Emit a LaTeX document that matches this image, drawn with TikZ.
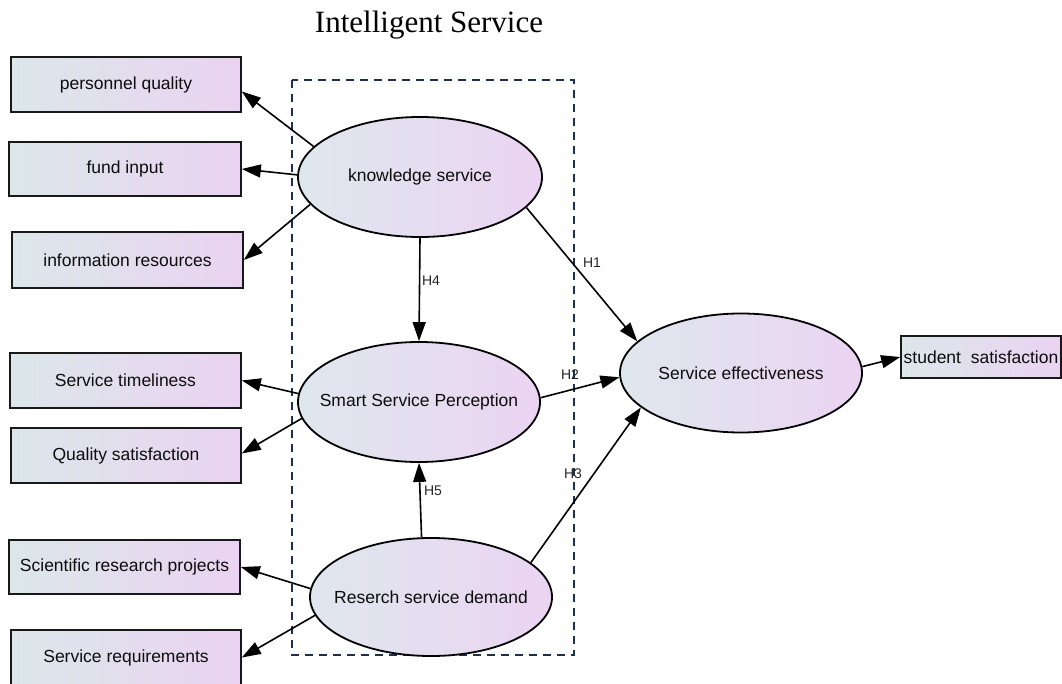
\documentclass[tikz,border=0pt]{standalone}
\usepackage{fontspec}
\setmainfont{Liberation Serif}
\newfontfamily\arialf{Liberation Sans}
\usetikzlibrary{shapes.geometric,arrows.meta,calc}
\definecolor{bxL}{HTML}{DCE7EA}
\definecolor{bxR}{HTML}{EAD3F2}
\definecolor{elL}{HTML}{DFE7EE}
\definecolor{elR}{HTML}{EBD4F2}
\definecolor{dashc}{HTML}{1C3152}
\newcommand{\zw}[1]{\makebox[0pt]{#1}}
\begin{document}
\begin{tikzpicture}[x=1pt,y=-1pt,
  box/.style={draw=black!90, line width=1.6pt, left color=bxL, right color=bxR,
    inner sep=0pt, font=\arialf\fontsize{17.5}{20}\selectfont, text=black!95},
  lat/.style={ellipse, draw=black, line width=1.8pt, left color=elL, right color=elR,
    inner sep=0pt, font=\arialf\fontsize{17.5}{20}\selectfont, text=black!95,
    minimum width=242pt, minimum height=120pt},
  arr/.style={line width=1.6pt, draw=black, -{Triangle[length=19pt,width=13pt]}},
  hl/.style={font=\arialf\fontsize{14}{16}\selectfont, text=black!85, inner sep=0pt},
  frame/.style={draw=dashc, line width=2.2pt, dash pattern=on 8pt off 6pt}]
\useasboundingbox (0,0) rectangle (1062,684);

% title
\node[anchor=base, font=\fontsize{31}{36}\selectfont, inner sep=0pt] (title) at (429,33) {Intelligent Service};

% dashed frame
\draw[frame] (292,80) rectangle (574,655);

% indicator boxes
\node[box, minimum width=230pt, minimum height=55pt] (pq) at (126,84.5) {personnel quality};
\node[box, minimum width=232pt, minimum height=54pt] (fi) at (125,169) {fund input};
\node[box, minimum width=231pt, minimum height=56pt] (ir) at (127.5,260) {information resources};
\node[box, minimum width=231pt, minimum height=55pt] (st) at (125.5,380.5) {Service timeliness};
\node[box, minimum width=230pt, minimum height=55pt] (qs) at (126,455.5) {Quality satisfaction};
\node[box, minimum width=231pt, minimum height=54pt] (sr) at (124.5,567) {Scientific research projects};
\node[box, minimum width=230pt, minimum height=55pt] (sq) at (126,657.5) {Service requirements};
\node[box, minimum width=160pt, minimum height=42pt] (sts) at (981,357) {student~~satisfaction};

% latent ellipses
\node[lat, minimum width=244pt] (ks) at (420,177) {\zw{knowledge service}};
\node[lat] (sp) at (419,402) {\zw{Smart Service Perception}};
\node[lat, minimum height=118pt] (rs) at (431,597) {\zw{Reserch service demand}};
\node[lat, minimum height=119pt] (se) at (741,373) {\zw{Service effectiveness}};

% indicator arrows
\draw[arr] (ks.164) -- ([yshift=-7pt]pq.east);
\draw[arr] (ks.179) -- (fi.east);
\draw[arr] (ks.194) -- (ir.east);
\draw[arr] (sp.176) -- (st.east);
\draw[arr] (sp.188) -- ([yshift=2pt]qs.east);
\draw[arr] (rs.176) -- (sr.east);
\draw[arr] (rs.189) -- (sq.east);
\draw[arr] (se.3) -- (sts.west);

% hypothesis arrows
\draw[arr] (ks.344) -- (se.163);
\draw[arr] (ks.south) -- (sp.north);
\draw[arr] (sp.2) -- (se.182);
\draw[arr] (rs.99) -- (sp.south);
\draw[arr] (rs.19) -- (se.199);

% labels
\node[hl] (h1) at (592,263) {H1};
\node[hl] (h4) at (431,281) {H4};
\node[hl] (h2) at (570,375) {H2};
\node[hl] (h3) at (573,474) {H3};
\node[hl] (h5) at (433,491) {H5};
\end{tikzpicture}
\end{document}
